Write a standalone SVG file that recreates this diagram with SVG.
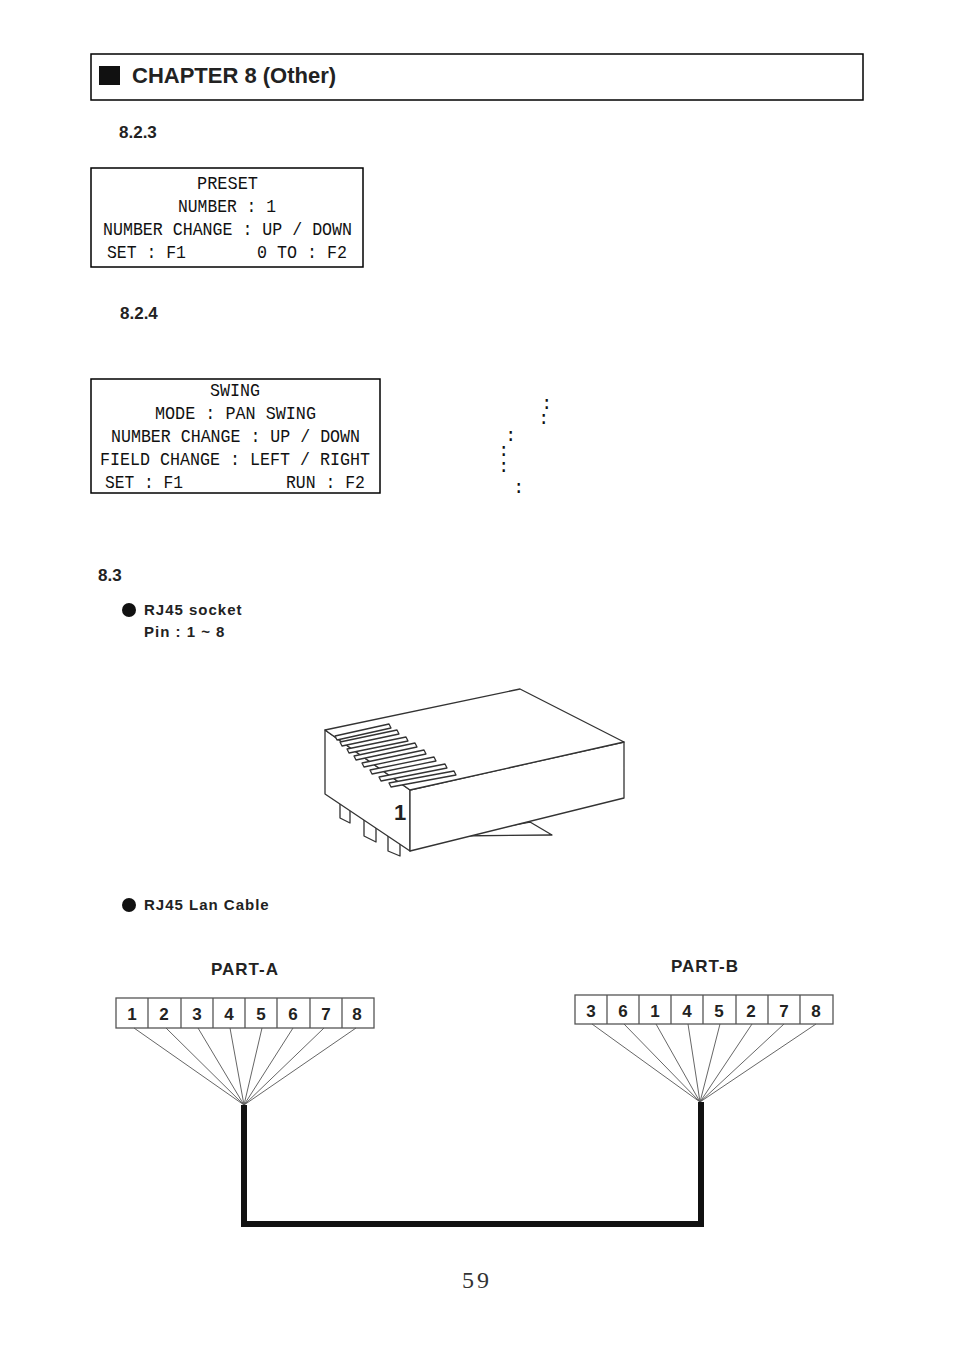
<svg xmlns="http://www.w3.org/2000/svg" width="954" height="1350" viewBox="0 0 954 1350">
<style>
.h{font-family:"Liberation Sans",Arial,sans-serif;font-weight:bold;fill:#222}
.m{font-family:"Liberation Mono","DejaVu Sans Mono",monospace;font-size:19px;fill:#111}
.box{fill:#fff;stroke:#000;stroke-width:1.5}
.ln{stroke:#555;stroke-width:0.9;fill:none}
.pl{fill:#fff;stroke:#333;stroke-width:1.3;stroke-linejoin:round}
.pin{font-family:"Liberation Sans",Arial,sans-serif;font-weight:bold;font-size:17px;fill:#222;text-anchor:middle}
</style>
<rect width="954" height="1350" fill="#fff"/>
<g id="header"><rect x="91" y="54" width="772" height="46" fill="#fff" stroke="#000" stroke-width="1.5"/>
<rect x="99" y="66" width="21" height="19" fill="#111"/>
<text x="132" y="83" class="h" font-size="22">CHAPTER 8 (Other)</text></g>
<text x="119" y="138" class="h" font-size="17">8.2.3</text>
<g id="preset"><rect x="91" y="168" width="272" height="99" class="box"/>
<text class="m" x="197" y="189" textLength="61" lengthAdjust="spacingAndGlyphs">PRESET</text>
<text class="m" x="178" y="212" textLength="98" lengthAdjust="spacingAndGlyphs">NUMBER : 1</text>
<text class="m" x="103" y="235" textLength="249" lengthAdjust="spacingAndGlyphs">NUMBER CHANGE : UP / DOWN</text>
<text class="m" x="107" y="258" textLength="79" lengthAdjust="spacingAndGlyphs">SET : F1</text>
<text class="m" x="257" y="258" textLength="90" lengthAdjust="spacingAndGlyphs">0 TO : F2</text></g>
<text x="120" y="319" class="h" font-size="17">8.2.4</text>
<g id="swing"><rect x="91" y="379" width="289" height="114" class="box"/>
<text class="m" x="210" y="396" textLength="50" lengthAdjust="spacingAndGlyphs">SWING</text>
<text class="m" x="155" y="419" textLength="161" lengthAdjust="spacingAndGlyphs">MODE : PAN SWING</text>
<text class="m" x="111" y="442" textLength="249" lengthAdjust="spacingAndGlyphs">NUMBER CHANGE : UP / DOWN</text>
<text class="m" x="100" y="465" textLength="270" lengthAdjust="spacingAndGlyphs">FIELD CHANGE : LEFT / RIGHT</text>
<text class="m" x="105" y="488" textLength="78" lengthAdjust="spacingAndGlyphs">SET : F1</text>
<text class="m" x="286" y="488" textLength="79" lengthAdjust="spacingAndGlyphs">RUN : F2</text></g>
<g id="colons" class="m" font-size="10"><text x="541" y="409">:</text><text x="538" y="424">:</text><text x="505" y="441">:</text><text x="498" y="456">:</text><text x="498" y="472">:</text><text x="513" y="493">:</text></g>
<text x="98" y="581" class="h" font-size="17">8.3</text>
<circle cx="129" cy="610" r="7" fill="#111"/>
<text x="144" y="615" class="h" font-size="15" letter-spacing="1">RJ45 socket</text>
<text x="144" y="637" class="h" font-size="15" letter-spacing="1">Pin : 1 ~ 8</text>
<g id="plug">
<polygon class="pl" points="455,836 530,822 552,835"/>
<polygon class="pl" points="340,800 340,818 350,823 350,806"/>
<polygon class="pl" points="364,816 364,836 376,842 376,822"/>
<polygon class="pl" points="388,832 388,851 400,856 400,838"/>
<polygon class="pl" points="325,730 410,790 410,851 325,794"/>
<polygon class="pl" points="410,790 624,742 624,798 410,851"/>
<polygon class="pl" points="325,730 520,689 624,742 410,790"/>
<g class="pl" stroke-width="1.2">
<path d="M335,736 L389,724 L391,728 L337,740 Z"/>
<path d="M340,742 L397,730 L399,734 L342,746 Z"/>
<path d="M347,749 L406,737 L408,741 L349,753 Z"/>
<path d="M354,756 L415,743 L417,747 L356,760 Z"/>
<path d="M362,763 L424,750 L426,754 L364,767 Z"/>
<path d="M370,770 L434,757 L436,761 L372,774 Z"/>
<path d="M379,777 L445,764 L447,768 L381,781 Z"/>
<path d="M389,783 L454,771 L456,775 L391,787 Z"/>
</g>
<text x="400" y="820" class="h" font-size="22" text-anchor="middle" fill="#333">1</text>
</g>
<circle cx="129" cy="905" r="7" fill="#111"/>
<text x="144" y="910" class="h" font-size="15" letter-spacing="1">RJ45 Lan Cable</text>
<text x="245" y="975" class="h" font-size="17" text-anchor="middle" fill="#333" letter-spacing="1">PART-A</text>
<text x="705" y="972" class="h" font-size="17" text-anchor="middle" fill="#333" letter-spacing="1">PART-B</text>
<g id="partA">
<rect x="116" y="998" width="258" height="30" fill="#fff" stroke="#555" stroke-width="1.3"/>
<g stroke="#555" stroke-width="1.3"><line x1="148" y1="998" x2="148" y2="1028"/><line x1="181" y1="998" x2="181" y2="1028"/><line x1="213" y1="998" x2="213" y2="1028"/><line x1="245" y1="998" x2="245" y2="1028"/><line x1="277" y1="998" x2="277" y2="1028"/><line x1="310" y1="998" x2="310" y2="1028"/><line x1="342" y1="998" x2="342" y2="1028"/></g>
<g class="pin"><text x="132" y="1020">1</text><text x="164" y="1020">2</text><text x="197" y="1020">3</text><text x="229" y="1020">4</text><text x="261" y="1020">5</text><text x="293" y="1020">6</text><text x="326" y="1020">7</text><text x="357" y="1020">8</text></g>
</g>
<g id="partB">
<rect x="575" y="995" width="258" height="29" fill="#fff" stroke="#555" stroke-width="1.3"/>
<g stroke="#555" stroke-width="1.3"><line x1="607" y1="995" x2="607" y2="1024"/><line x1="639" y1="995" x2="639" y2="1024"/><line x1="671" y1="995" x2="671" y2="1024"/><line x1="703" y1="995" x2="703" y2="1024"/><line x1="736" y1="995" x2="736" y2="1024"/><line x1="768" y1="995" x2="768" y2="1024"/><line x1="800" y1="995" x2="800" y2="1024"/></g>
<g class="pin"><text x="591" y="1017">3</text><text x="623" y="1017">6</text><text x="655" y="1017">1</text><text x="687" y="1017">4</text><text x="719" y="1017">5</text><text x="751" y="1017">2</text><text x="784" y="1017">7</text><text x="816" y="1017">8</text></g>
</g>
<g id="connectors">
<g class="ln"><path d="M134,1028L244,1105M166,1028L244,1105M198,1028L244,1105M230,1028L244,1105M262,1028L244,1105M293,1028L244,1105M324,1028L244,1105M356,1028L244,1105"/>
<path d="M592,1024L700,1102M624,1024L700,1102M656,1024L700,1102M688,1024L700,1102M720,1024L700,1102M752,1024L700,1102M784,1024L700,1102M816,1024L700,1102"/></g>
<path d="M244,1105 V1224 H701 V1102" fill="none" stroke="#111" stroke-width="6"/>
</g>
<text x="477" y="1288" font-family="Liberation Serif,serif" font-size="24" text-anchor="middle" fill="#333" letter-spacing="3">59</text>
</svg>
